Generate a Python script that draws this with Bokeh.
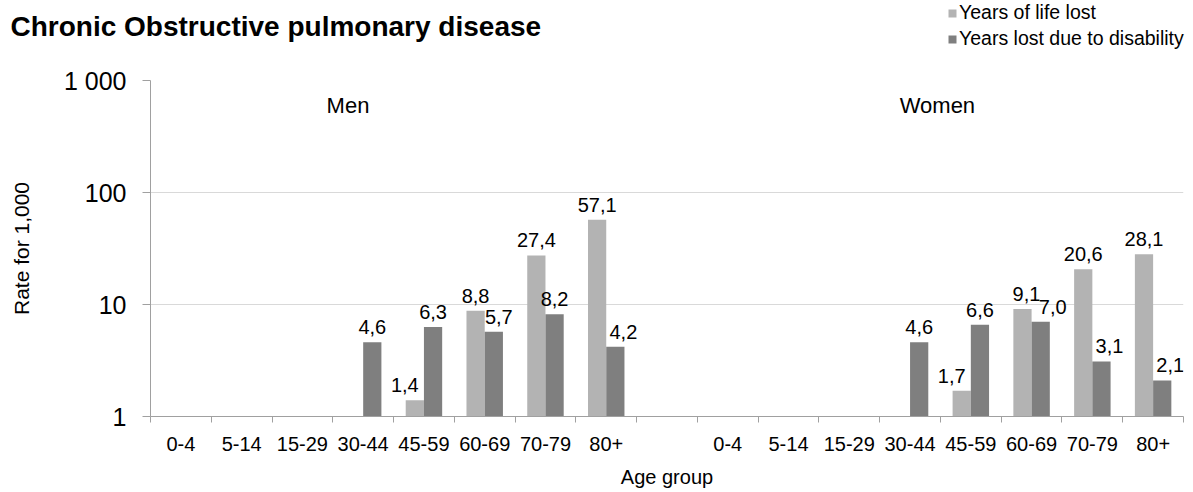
import math
import pandas as pd
from bokeh.plotting import figure
from bokeh.models import (ColumnDataSource, FixedTicker, Range1d, Label,
                          Legend, LegendItem)
from bokeh.core.properties import value
from bokeh.embed import file_html
from bokeh.resources import INLINE

# ---------------- data ----------------
title_text = "Chronic Obstructive pulmonary disease"
age_groups = ["0-4", "5-14", "15-29", "30-44", "45-59", "60-69", "70-79", "80+"]
sexes = ["Men", "Women"]
series_names = ["Years of life lost", "Years lost due to disability"]
nan = float("nan")
men_yll = [nan, nan, nan, nan, 1.4, 8.8, 27.4, 57.1]
men_yld = [nan, nan, nan, 4.6, 6.3, 5.7, 8.2, 4.2]
women_yll = [nan, nan, nan, nan, 1.7, 9.1, 20.6, 28.1]
women_yld = [nan, nan, nan, 4.6, 6.6, 7.0, 3.1, 2.1]
y_ticks = [1, 10, 100, 1000]
y_tick_labels = ["1", "10", "100", "1 000"]
y_axis_title = "Rate for 1,000"
x_axis_title = "Age group"

# ---------------- styling ----------------
FONT = "Liberation Sans"
colors = ["#b3b3b3", "#7f7f7f"]
axis_color = "#a0a0a0"
grid_color = "#d9d9d9"
bar_w = 0.3
W = 1185
HEAD_H = 60
MAIN_H = 430
# small horizontal nudges (px) of a few value labels, as in the original layout
label_nudge = {("Men", "45-59", 0): -10, ("Men", "60-69", 1): 5,
               ("Men", "80+", 1): 8, ("Women", "45-59", 0): -10,
               ("Women", "60-69", 0): 4, ("Women", "60-69", 1): 12,
               ("Women", "70-79", 1): 8, ("Women", "80+", 1): 8}

n_groups = len(age_groups)
n_slots = 2 * n_groups + 1

rows = []
for s_idx, (sex, yll, yld) in enumerate([("Men", men_yll, men_yld),
                                         ("Women", women_yll, women_yld)]):
    base = s_idx * (n_groups + 1)
    for i, g in enumerate(age_groups):
        for k, (name, vals) in enumerate(zip(series_names, [yll, yld])):
            v = vals[i]
            if not math.isnan(v):
                rows.append(dict(x=base + i + 0.5 + (k - 0.5) * bar_w,
                                 top=v, series=name,
                                 dx=label_nudge.get((sex, g, k), 0),
                                 label=f"{v:.1f}".replace(".", ",")))
df = pd.DataFrame(rows)

# ---------------- header (title + legend) ----------------
h = figure(width=W, height=HEAD_H, output_backend="svg", toolbar_location=None,
           x_range=Range1d(0, W), y_range=Range1d(HEAD_H, 0),
           x_axis_location=None, y_axis_location=None, min_border=0)
h.outline_line_color = None
h.xgrid.visible = False
h.ygrid.visible = False
h.add_layout(Label(x=10, y=26, text=title_text, text_font=FONT,
                   text_font_size="28px", text_font_style="bold",
                   text_baseline="alphabetic", text_color="black"))
legend_items = []
for k, name in enumerate(series_names):
    # legend swatch only (no visible data in the header)
    r = h.vbar(x=[nan], top=[nan], width=1, fill_color=colors[k], line_color=None)
    legend_items.append(LegendItem(label=name, renderers=[r]))
legend = Legend(items=legend_items, location=(947, 10), orientation="vertical",
                label_text_font=FONT, label_text_font_size="19.5px",
                label_text_color="black", glyph_width=10, glyph_height=10,
                label_standoff=2, spacing=3, padding=0, margin=0,
                border_line_color=None, background_fill_alpha=0,
                label_height=20)
h.add_layout(legend, "center")

# ---------------- main chart ----------------
p = figure(width=W, height=MAIN_H, output_backend="svg", toolbar_location=None,
           y_axis_type="log", x_range=Range1d(0, n_slots), y_range=Range1d(1, 1000),
           min_border_left=150, min_border_right=2, min_border_top=20,
           min_border_bottom=MAIN_H - 359)
p.outline_line_color = None

for k, name in enumerate(series_names):
    src = ColumnDataSource(df[df.series == name])
    p.vbar(x="x", top="top", bottom=1, width=bar_w, source=src,
           fill_color=colors[k], line_color=None)

label_src = ColumnDataSource(df)
p.text(x="x", y="top", text="label", source=label_src, x_offset="dx",
       text_align="center", text_baseline="alphabetic", y_offset=-15,
       text_font=value(FONT), text_font_size="20px", text_color="black")

# axes
p.yaxis.ticker = FixedTicker(ticks=y_ticks)
p.ygrid.ticker = p.yaxis.ticker
p.yaxis.major_label_overrides = {t: l for t, l in zip(y_ticks, y_tick_labels)}
p.yaxis.minor_tick_line_color = None
p.yaxis.major_tick_in = 0
p.yaxis.major_tick_out = 8
p.yaxis.axis_line_color = axis_color
p.yaxis.major_tick_line_color = axis_color
p.yaxis.major_label_text_font = FONT
p.yaxis.major_label_text_font_size = "25px"
p.yaxis.major_label_text_color = "black"
p.yaxis.major_label_standoff = 16
p.yaxis.axis_label = y_axis_title
p.yaxis.axis_label_text_font = FONT
p.yaxis.axis_label_text_font_size = "21px"
p.yaxis.axis_label_text_font_style = "normal"
p.yaxis.axis_label_text_color = "black"
p.yaxis.axis_label_standoff = 28

centers = [s * (n_groups + 1) + i + 0.5 for s in range(2) for i in range(n_groups)]
bounds = list(range(n_slots + 1))
p.xaxis.ticker = FixedTicker(ticks=centers, minor_ticks=bounds)
p.xaxis.major_label_overrides = {c: g for c, g in zip(centers, age_groups * 2)}
p.xaxis.major_tick_line_color = None
p.xaxis.minor_tick_line_color = axis_color
p.xaxis.minor_tick_in = 0
p.xaxis.minor_tick_out = 6
p.xaxis.axis_line_color = axis_color
p.xaxis.major_label_text_font = FONT
p.xaxis.major_label_text_font_size = "20px"
p.xaxis.major_label_text_color = "black"
p.xaxis.major_label_standoff = 14
p.xaxis.axis_label = x_axis_title
p.xaxis.axis_label_text_font = FONT
p.xaxis.axis_label_text_font_size = "20px"
p.xaxis.axis_label_text_font_style = "normal"
p.xaxis.axis_label_text_color = "black"
p.xaxis.axis_label_standoff = 12

p.xgrid.visible = False
p.ygrid.grid_line_color = grid_color

for name, xpos in zip(sexes, [3.25, 12.95]):
    p.add_layout(Label(x=xpos, y=600, text=name, text_align="center",
                       text_baseline="middle", text_font=FONT,
                       text_font_size="22px", text_color="black"))

open("out.html", "w").write(file_html([h, p], INLINE))
